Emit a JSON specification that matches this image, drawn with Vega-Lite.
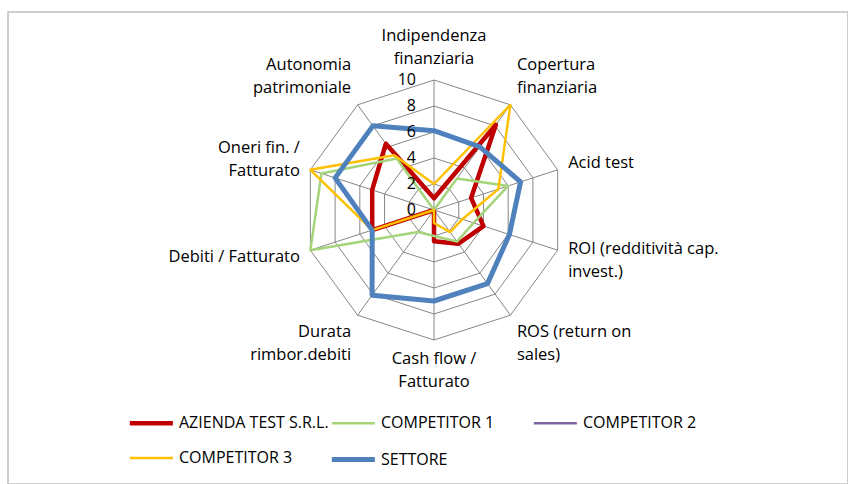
{
  "$schema": "https://vega.github.io/schema/vega-lite/v6.json",
  "width": 848,
  "height": 484,
  "autosize": {"type": "fit", "contains": "padding"},
  "padding": {"left": 8, "top": 12, "right": 0, "bottom": 0},
  "background": "white",
  "config": {
    "view": {"stroke": "#BFBFBF", "strokeWidth": 1.5},
    "font": "Open Sans",
    "legend": {
      "orient": "none",
      "legendX": 119,
      "legendY": 401,
      "direction": "horizontal",
      "columns": 3,
      "gridAlign": "all",
      "symbolType": "M-1,0L5,0",
      "symbolSize": 206,
      "labelOffset": 32,
      "columnPadding": -8,
      "rowPadding": 16.5,
      "padding": 0,
      "labelFontSize": 16,
      "labelColor": "#000000",
      "labelFont": "Open Sans",
      "labelLimit": 400,
      "title": null
    }
  },
  "datasets": {
    "axes": [
      {"axis": "Indipendenza finanziaria", "label": "Indipendenza\nfinanziaria", "idx": 0},
      {"axis": "Copertura finanziaria", "label": "Copertura\nfinanziaria", "idx": 1},
      {"axis": "Acid test", "label": "Acid test", "idx": 2},
      {"axis": "ROI (redditività cap. invest.)", "label": "ROI (redditività cap.\ninvest.)", "idx": 3},
      {"axis": "ROS (return on sales)", "label": "ROS (return on\nsales)", "idx": 4},
      {"axis": "Cash flow / Fatturato", "label": "Cash flow /\nFatturato", "idx": 5},
      {"axis": "Durata rimbor.debiti", "label": "Durata\nrimbor.debiti", "idx": 6},
      {"axis": "Debiti / Fatturato", "label": "Debiti / Fatturato", "idx": 7},
      {"axis": "Oneri fin. / Fatturato", "label": "Oneri fin. /\nFatturato", "idx": 8},
      {"axis": "Autonomia patrimoniale", "label": "Autonomia\npatrimoniale", "idx": 9}
    ],
    "ticks": [{"v": 0}, {"v": 2}, {"v": 4}, {"v": 6}, {"v": 8}, {"v": 10}],
    "scores": [
      {"series": "AZIENDA TEST S.R.L.", "axis": "Indipendenza finanziaria", "value": 0.9},
      {"series": "AZIENDA TEST S.R.L.", "axis": "Copertura finanziaria", "value": 8.1},
      {"series": "AZIENDA TEST S.R.L.", "axis": "Acid test", "value": 3},
      {"series": "AZIENDA TEST S.R.L.", "axis": "ROI (redditività cap. invest.)", "value": 4},
      {"series": "AZIENDA TEST S.R.L.", "axis": "ROS (return on sales)", "value": 3.2},
      {"series": "AZIENDA TEST S.R.L.", "axis": "Cash flow / Fatturato", "value": 2.4},
      {"series": "AZIENDA TEST S.R.L.", "axis": "Durata rimbor.debiti", "value": 0},
      {"series": "AZIENDA TEST S.R.L.", "axis": "Debiti / Fatturato", "value": 5},
      {"series": "AZIENDA TEST S.R.L.", "axis": "Oneri fin. / Fatturato", "value": 5},
      {"series": "AZIENDA TEST S.R.L.", "axis": "Autonomia patrimoniale", "value": 6.3},
      {"series": "COMPETITOR 1", "axis": "Indipendenza finanziaria", "value": 0},
      {"series": "COMPETITOR 1", "axis": "Copertura finanziaria", "value": 3},
      {"series": "COMPETITOR 1", "axis": "Acid test", "value": 6},
      {"series": "COMPETITOR 1", "axis": "ROI (redditività cap. invest.)", "value": 3.2},
      {"series": "COMPETITOR 1", "axis": "ROS (return on sales)", "value": 3},
      {"series": "COMPETITOR 1", "axis": "Cash flow / Fatturato", "value": 2},
      {"series": "COMPETITOR 1", "axis": "Durata rimbor.debiti", "value": 2.1},
      {"series": "COMPETITOR 1", "axis": "Debiti / Fatturato", "value": 10},
      {"series": "COMPETITOR 1", "axis": "Oneri fin. / Fatturato", "value": 9.1},
      {"series": "COMPETITOR 1", "axis": "Autonomia patrimoniale", "value": 4.9},
      {"series": "COMPETITOR 2", "axis": "Indipendenza finanziaria", "value": 0},
      {"series": "COMPETITOR 2", "axis": "Copertura finanziaria", "value": 0},
      {"series": "COMPETITOR 2", "axis": "Acid test", "value": 0},
      {"series": "COMPETITOR 2", "axis": "ROI (redditività cap. invest.)", "value": 0},
      {"series": "COMPETITOR 2", "axis": "ROS (return on sales)", "value": 0},
      {"series": "COMPETITOR 2", "axis": "Cash flow / Fatturato", "value": 0},
      {"series": "COMPETITOR 2", "axis": "Durata rimbor.debiti", "value": 0},
      {"series": "COMPETITOR 2", "axis": "Debiti / Fatturato", "value": 0},
      {"series": "COMPETITOR 2", "axis": "Oneri fin. / Fatturato", "value": 0},
      {"series": "COMPETITOR 2", "axis": "Autonomia patrimoniale", "value": 0},
      {"series": "COMPETITOR 3", "axis": "Indipendenza finanziaria", "value": 2},
      {"series": "COMPETITOR 3", "axis": "Copertura finanziaria", "value": 10},
      {"series": "COMPETITOR 3", "axis": "Acid test", "value": 5.2},
      {"series": "COMPETITOR 3", "axis": "ROI (redditività cap. invest.)", "value": 2.3},
      {"series": "COMPETITOR 3", "axis": "ROS (return on sales)", "value": 2.1},
      {"series": "COMPETITOR 3", "axis": "Cash flow / Fatturato", "value": 1},
      {"series": "COMPETITOR 3", "axis": "Durata rimbor.debiti", "value": 0},
      {"series": "COMPETITOR 3", "axis": "Debiti / Fatturato", "value": 5},
      {"series": "COMPETITOR 3", "axis": "Oneri fin. / Fatturato", "value": 10},
      {"series": "COMPETITOR 3", "axis": "Autonomia patrimoniale", "value": 5.2},
      {"series": "SETTORE", "axis": "Indipendenza finanziaria", "value": 6.1},
      {"series": "SETTORE", "axis": "Copertura finanziaria", "value": 6},
      {"series": "SETTORE", "axis": "Acid test", "value": 7},
      {"series": "SETTORE", "axis": "ROI (redditività cap. invest.)", "value": 6.1},
      {"series": "SETTORE", "axis": "ROS (return on sales)", "value": 7},
      {"series": "SETTORE", "axis": "Cash flow / Fatturato", "value": 7},
      {"series": "SETTORE", "axis": "Durata rimbor.debiti", "value": 8.1},
      {"series": "SETTORE", "axis": "Debiti / Fatturato", "value": 5},
      {"series": "SETTORE", "axis": "Oneri fin. / Fatturato", "value": 8},
      {"series": "SETTORE", "axis": "Autonomia patrimoniale", "value": 8}
    ]
  },
  "layer": [
    {
      "data": {"name": "axes"},
      "transform": [
        {"calculate": "[2, 4, 6, 8, 10]", "as": "ring"},
        {"flatten": ["ring"]},
        {"calculate": "datum.ring * sin(2 * PI * datum.idx / 10)", "as": "px"},
        {"calculate": "datum.ring * cos(2 * PI * datum.idx / 10)", "as": "py"}
      ],
      "mark": {"type": "line", "interpolate": "linear-closed", "stroke": "#868686", "strokeWidth": 1},
      "encoding": {
        "x": {"field": "px", "type": "quantitative", "scale": {"domain": [-32.77, 31.846], "nice": false, "zero": false}, "axis": null},
        "y": {"field": "py", "type": "quantitative", "scale": {"domain": [-21.077, 15.231], "nice": false, "zero": false}, "axis": null},
        "detail": {"field": "ring", "type": "nominal"},
        "order": {"field": "idx", "type": "quantitative"}
      }
    },
    {
      "data": {"name": "axes"},
      "transform": [
        {"calculate": "10 * sin(2 * PI * datum.idx / 10)", "as": "px"},
        {"calculate": "10 * cos(2 * PI * datum.idx / 10)", "as": "py"}
      ],
      "mark": {"type": "rule", "stroke": "#868686", "strokeWidth": 1},
      "encoding": {
        "x": {"field": "px", "type": "quantitative"},
        "y": {"field": "py", "type": "quantitative"},
        "x2": {"datum": 0},
        "y2": {"datum": 0}
      }
    },
    {
      "data": {"name": "scores"},
      "transform": [
        {"lookup": "axis", "from": {"data": {"name": "axes"}, "key": "axis", "fields": ["idx"]}},
        {"calculate": "datum.value * sin(2 * PI * datum.idx / 10)", "as": "px"},
        {"calculate": "datum.value * cos(2 * PI * datum.idx / 10)", "as": "py"}
      ],
      "mark": {"type": "line", "interpolate": "linear-closed", "strokeJoin": "round"},
      "encoding": {
        "x": {"field": "px", "type": "quantitative"},
        "y": {"field": "py", "type": "quantitative"},
        "color": {
          "field": "series",
          "type": "nominal",
          "scale": {
            "domain": ["AZIENDA TEST S.R.L.", "COMPETITOR 1", "COMPETITOR 2", "COMPETITOR 3", "SETTORE"],
            "range": ["#C00000", "#A5D47A", "#8064A2", "#FFC000", "#4F81BD"]
          }
        },
        "strokeWidth": {
          "field": "series",
          "type": "nominal",
          "scale": {
            "type": "ordinal",
            "domain": ["AZIENDA TEST S.R.L.", "COMPETITOR 1", "COMPETITOR 2", "COMPETITOR 3", "SETTORE"],
            "range": [4.5, 2.5, 2.5, 2.5, 5]
          }
        },
        "order": {"field": "idx", "type": "quantitative"}
      }
    },
    {
      "data": {"name": "ticks"},
      "mark": {"type": "text", "align": "right", "baseline": "middle", "dx": -18, "fontSize": 16, "font": "Open Sans", "color": "#000000"},
      "encoding": {
        "x": {"datum": 0},
        "y": {"field": "v", "type": "quantitative"},
        "text": {"field": "v", "type": "quantitative"}
      }
    },
    {
      "data": {"name": "axes"},
      "transform": [
        {"calculate": "sin(2 * PI * datum.idx / 10)", "as": "sx"},
        {"calculate": "cos(2 * PI * datum.idx / 10)", "as": "cy"},
        {"calculate": "length(split(datum.label, '\\n')) - 1", "as": "extra"},
        {"calculate": "10.85 * datum.sx", "as": "px"},
        {"calculate": "(datum.cy > 0.9 ? 11.0 : 10.85) * datum.cy", "as": "py"}
      ],
      "mark": {
        "type": "text",
        "fontSize": 16.5,
        "font": "Open Sans",
        "color": "#000000",
        "lineBreak": "\n",
        "lineHeight": 23,
        "align": {"expr": "datum.sx > 0.2 ? 'left' : (datum.sx < -0.2 ? 'right' : 'center')"},
        "baseline": {"expr": "datum.cy > 0.5 ? 'bottom' : (datum.cy < -0.5 ? 'top' : 'middle')"},
        "dy": {"expr": "datum.cy > 0.5 ? -23 * datum.extra : (datum.cy < -0.5 ? 0 : -11.5 * datum.extra - datum.cy * (10 + 12 * datum.extra))"}
      },
      "encoding": {
        "x": {"field": "px", "type": "quantitative"},
        "y": {"field": "py", "type": "quantitative"},
        "text": {"field": "label", "type": "nominal"}
      }
    }
  ]
}
